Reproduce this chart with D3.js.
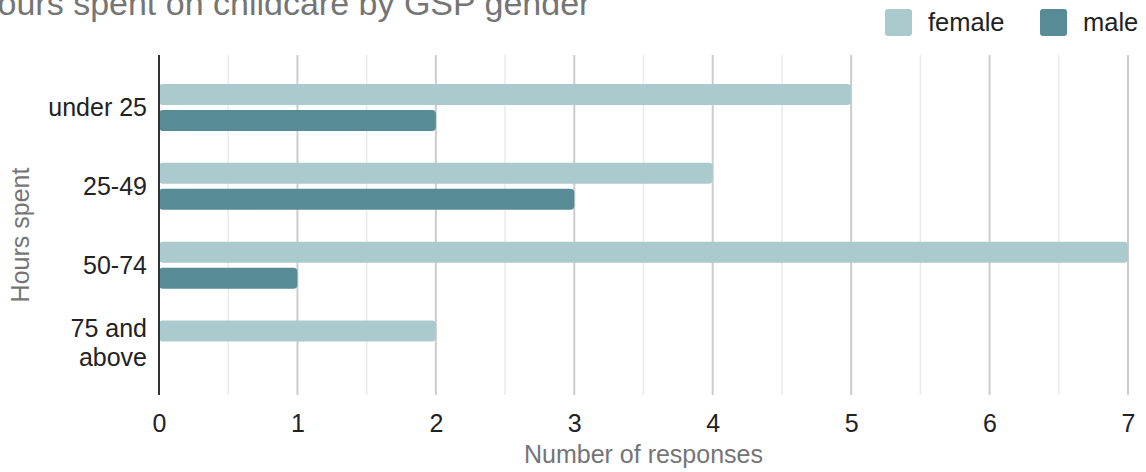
<!DOCTYPE html>
<html><head><meta charset="utf-8">
<script src="https://cdn.jsdelivr.net/npm/d3@7"></script>
<style>body{margin:0;background:#fff;} svg{display:block;font-family:"Liberation Sans",Arial,sans-serif;}</style>
</head><body><svg id="c" width="1146" height="472"></svg>
<script>
const categories = ["under 25", "25-49", "50-74", "75 and above"];
const seriesNames = ["female", "male"];
const female = [5, 4, 7, 2];
const male = [2, 3, 1, 0];
const xTicks = [0, 1, 2, 3, 4, 5, 6, 7];
const colors = {female: "#abcacd", male: "#578c96"};

const svg = d3.select("#c");
const x = d3.scaleLinear().domain([0, 7]).range([159, 1128]);
const y = d3.scaleBand().domain(categories).range([68, 383.5]);
const plotTop = 55, plotBottom = 395;
const FF = "Liberation Sans, Arial, sans-serif";

// minor gridlines
const minor = d3.range(0.5, 7, 1);
svg.append("g").selectAll("line").data(minor).join("line")
  .attr("x1", d => x(d)).attr("x2", d => x(d)).attr("y1", plotTop).attr("y2", plotBottom)
  .attr("stroke", "#ebebeb").attr("stroke-width", 1.5);
// major gridlines
svg.append("g").selectAll("line").data(xTicks.slice(1)).join("line")
  .attr("x1", d => x(d)).attr("x2", d => x(d)).attr("y1", plotTop).attr("y2", plotBottom)
  .attr("stroke", "#cccccc").attr("stroke-width", 2);

// bars
const data = [];
categories.forEach((c, i) => {
  data.push({cat: c, s: "female", v: female[i]});
  data.push({cat: c, s: "male", v: male[i]});
});
const barH = 21;
svg.append("g").selectAll("rect").data(data.filter(d => d.v > 0)).join("rect")
  .attr("x", x(0))
  .attr("y", d => {
    const c = y(d.cat) + y.bandwidth() / 2;
    return d.s === "female" ? c - 23.5 : c + 2.5;
  })
  .attr("width", d => x(d.v) - x(0))
  .attr("height", barH)
  .attr("rx", 4)
  .attr("fill", d => colors[d.s]);

// baseline axis
svg.append("line").attr("x1", x(0)).attr("x2", x(0)).attr("y1", plotTop).attr("y2", plotBottom)
  .attr("stroke", "#333").attr("stroke-width", 2);

// x tick labels
const xAxis = d3.axisBottom(x).tickValues(xTicks).tickFormat(d3.format("d")).tickSize(0).tickPadding(0);
const gx = svg.append("g").attr("transform", "translate(0,413)").call(xAxis);
gx.select(".domain").remove();
gx.selectAll("text").attr("font-size", 25).attr("fill", "#222").attr("dy", "0.76em")
  .attr("font-family", FF);

// y category labels
const yAxis = d3.axisLeft(y).tickSize(0).tickPadding(0);
const gy = svg.append("g").attr("transform", "translate(147,0)").call(yAxis);
gy.select(".domain").remove();
gy.selectAll("text").each(function(d) {
  const t = d3.select(this);
  t.text(null).attr("font-size", 25).attr("fill", "#222").attr("text-anchor", "end")
    .attr("font-family", FF).attr("dy", null);
  if (d === "75 and above") {
    t.append("tspan").attr("x", 0).attr("y", -7).text("75 and");
    t.append("tspan").attr("x", 0).attr("y", 22).text("above");
  } else {
    t.attr("y", 9).text(d);
  }
});

// axis titles
svg.append("text").attr("x", (x(0) + x(7)) / 2).attr("y", 463).attr("text-anchor", "middle")
  .attr("font-size", 25).attr("fill", "#757575").text("Number of responses");
svg.append("text").attr("transform", "translate(29,235) rotate(-90)").attr("text-anchor", "middle")
  .attr("font-size", 25).attr("fill", "#757575").text("Hours spent");

// title
svg.append("text").attr("x", -27).attr("y", 15).attr("font-size", 34).attr("fill", "#757575")
  .text("Hours spent on childcare by GSP gender");

// legend
const legX = [885, 1040];
const lg = svg.append("g").selectAll("g").data(seriesNames).join("g")
  .attr("transform", (d, i) => `translate(${legX[i]},9)`);
lg.append("rect").attr("width", 27).attr("height", 27).attr("rx", 3).attr("fill", d => colors[d]);
lg.append("text").attr("x", 43).attr("y", 22).attr("font-size", 25.5).attr("fill", "#222").text(d => d);
</script>
</body></html>
